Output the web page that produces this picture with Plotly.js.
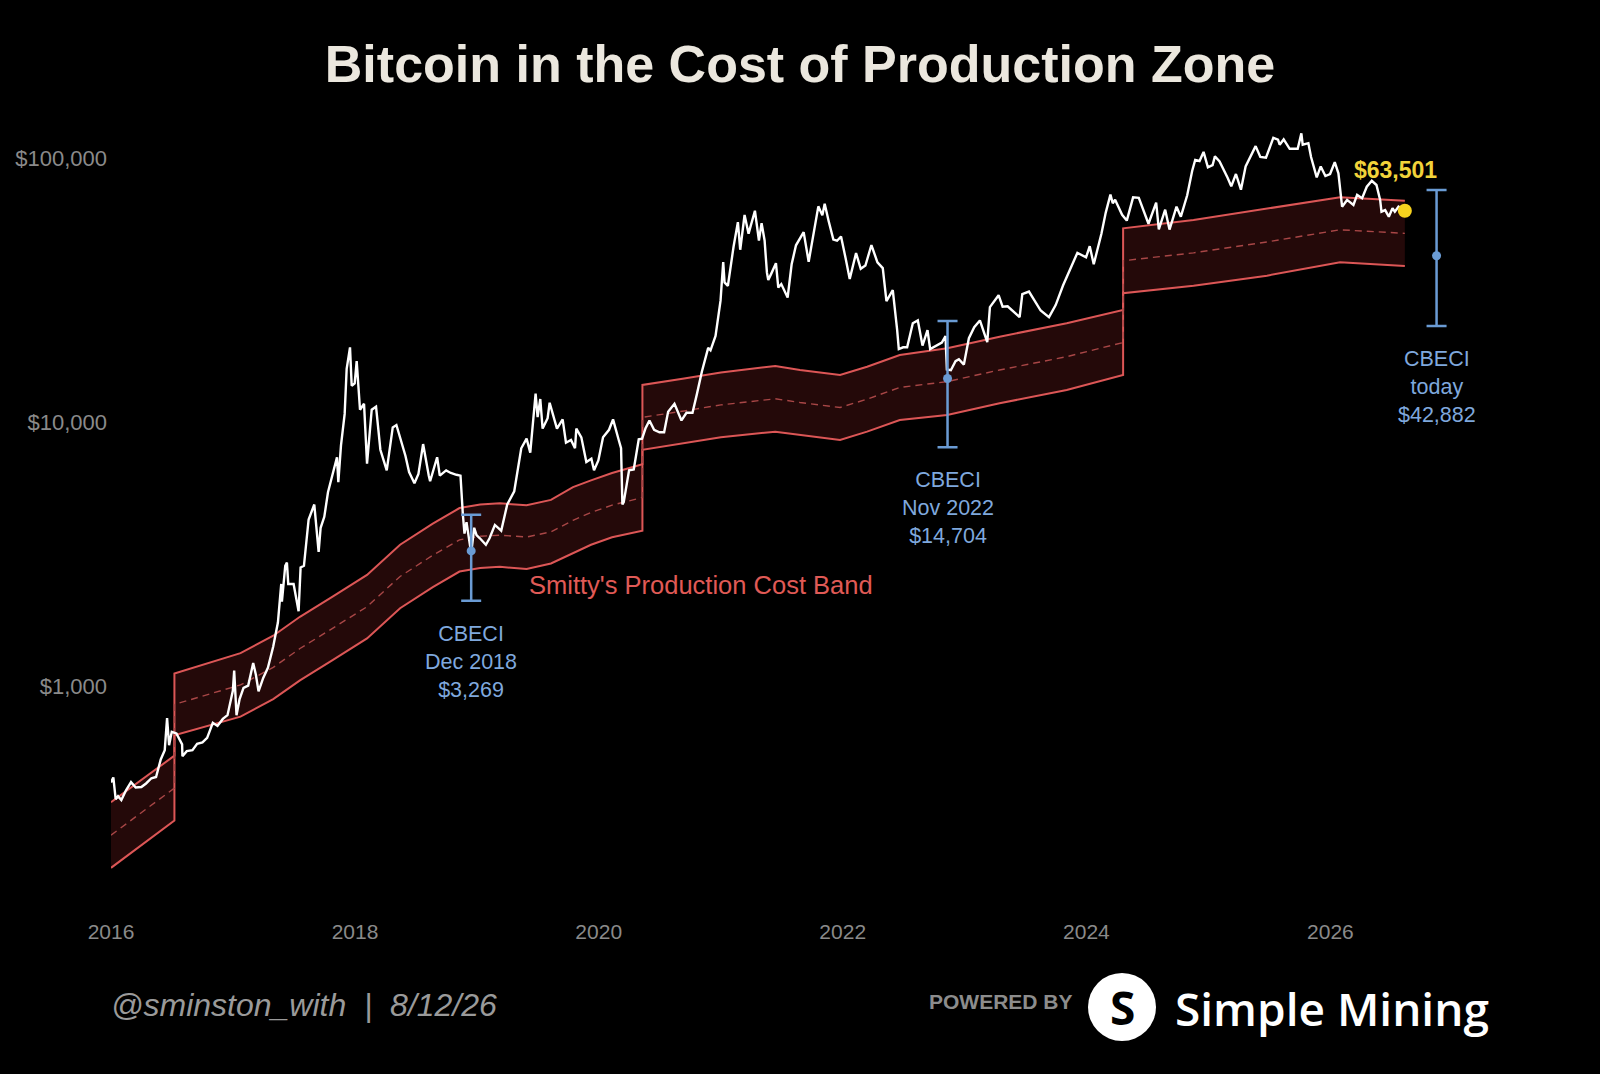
<!DOCTYPE html>
<html><head><meta charset="utf-8">
<script src="https://cdn.plot.ly/plotly-3.0.1.min.js"></script>
<style>html,body{margin:0;padding:0;background:#000;}#chart{width:1600px;height:1074px;}</style>
</head><body><div id="chart"></div>
<script>
// ---- Bitcoin price ----
const priceDates = [
'2016-01-01','2016-01-08','2016-01-15','2016-01-22','2016-02-01','2016-02-15','2016-03-01','2016-03-15','2016-04-01','2016-04-15','2016-05-01','2016-05-15','2016-05-29','2016-06-10','2016-06-17','2016-06-23','2016-07-01','2016-07-15','2016-08-01','2016-08-02','2016-08-15','2016-09-01','2016-09-15','2016-10-01','2016-10-15','2016-11-01','2016-11-15','2016-12-01','2016-12-15','2016-12-31',
'2017-01-04','2017-01-11','2017-01-20','2017-02-01','2017-02-15','2017-03-02','2017-03-10','2017-03-18','2017-04-01','2017-04-15','2017-05-01','2017-05-15','2017-05-25','2017-05-27','2017-06-06','2017-06-11','2017-06-15','2017-07-01','2017-07-16','2017-07-22','2017-08-01','2017-08-15','2017-09-01','2017-09-14','2017-09-20','2017-10-01','2017-10-12','2017-10-20','2017-11-01','2017-11-08','2017-11-12','2017-11-20','2017-12-01','2017-12-07','2017-12-17','2017-12-22','2017-12-31',
'2018-01-06','2018-01-16','2018-01-28','2018-02-06','2018-02-20','2018-03-05','2018-03-18','2018-04-06','2018-04-24','2018-05-05','2018-05-20','2018-06-01','2018-06-12','2018-06-28','2018-07-10','2018-07-24','2018-08-10','2018-08-14','2018-09-04','2018-09-12','2018-10-01','2018-10-15','2018-11-01','2018-11-13','2018-11-20','2018-11-25','2018-12-01','2018-12-15','2018-12-24','2018-12-31',
'2019-01-10','2019-01-28','2019-02-08','2019-02-24','2019-03-15','2019-04-02','2019-04-23','2019-05-14','2019-05-30','2019-06-10','2019-06-26','2019-07-02','2019-07-10','2019-07-17','2019-08-01','2019-08-07','2019-08-29','2019-09-15','2019-09-25','2019-10-10','2019-10-22','2019-10-26','2019-11-10','2019-11-25','2019-12-10','2019-12-18','2019-12-31',
'2020-01-14','2020-02-01','2020-02-13','2020-03-01','2020-03-08','2020-03-12','2020-03-16','2020-04-01','2020-04-15','2020-04-30','2020-05-10','2020-05-20','2020-06-01','2020-06-15','2020-07-01','2020-07-15','2020-07-27','2020-08-15','2020-09-05','2020-09-20','2020-10-08','2020-10-21','2020-11-05','2020-11-24','2020-12-01','2020-12-16','2020-12-27','2020-12-31',
'2021-01-08','2021-01-12','2021-01-22','2021-02-08','2021-02-21','2021-02-28','2021-03-13','2021-03-25','2021-04-13','2021-04-25','2021-05-03','2021-05-12','2021-05-19','2021-05-23','2021-06-01','2021-06-15','2021-06-22','2021-07-01','2021-07-20','2021-08-01','2021-08-14','2021-09-06','2021-09-21','2021-10-01','2021-10-20','2021-11-01','2021-11-08','2021-11-20','2021-12-04','2021-12-15','2021-12-27',
'2022-01-10','2022-01-22','2022-02-10','2022-02-24','2022-03-10','2022-03-28','2022-04-15','2022-05-01','2022-05-12','2022-05-31','2022-06-13','2022-06-18','2022-07-01','2022-07-13','2022-07-30','2022-08-14','2022-08-28','2022-09-12','2022-09-20','2022-10-01','2022-10-25','2022-11-05','2022-11-09','2022-11-21','2022-12-05','2022-12-15','2022-12-30',
'2023-01-14','2023-01-30','2023-02-16','2023-03-10','2023-03-18','2023-04-13','2023-04-25','2023-05-10','2023-06-15','2023-06-23','2023-07-13','2023-08-17','2023-09-11','2023-10-01','2023-10-23','2023-11-10','2023-12-05','2023-12-31',
'2024-01-11','2024-01-23','2024-02-15','2024-02-28','2024-03-13','2024-03-20','2024-03-27','2024-04-17','2024-05-01','2024-05-20','2024-06-06','2024-07-05','2024-07-28','2024-08-05','2024-08-24','2024-09-06','2024-09-27','2024-10-10','2024-10-29','2024-11-13','2024-11-22','2024-12-05','2024-12-17','2024-12-30',
'2025-01-13','2025-01-20','2025-02-03','2025-02-27','2025-03-10','2025-03-24','2025-04-08','2025-04-22','2025-05-08','2025-05-22','2025-06-05','2025-06-22','2025-07-14','2025-07-28','2025-08-02','2025-08-14','2025-09-01','2025-09-25','2025-10-06','2025-10-10','2025-10-27','2025-11-04','2025-11-21','2025-12-03','2025-12-17','2025-12-31',
'2026-01-14','2026-01-25','2026-02-05','2026-02-20','2026-03-11','2026-03-22','2026-04-06','2026-04-20','2026-05-05','2026-05-19','2026-05-30','2026-06-03','2026-06-14','2026-06-25','2026-07-06','2026-07-13','2026-07-24','2026-08-04','2026-08-12'
];
const priceValues = [
434,453,375,385,372,405,435,415,417,430,450,455,530,575,760,600,675,665,605,545,570,575,608,615,640,730,710,755,780,965,
1150,780,895,990,1010,1230,1110,960,1080,1180,1420,1750,2450,2100,2870,2950,2450,2450,1930,2830,2870,4300,4900,3240,4000,4400,5450,6000,6750,7400,5950,8200,10800,16000,19300,13800,14100,
17100,11200,11800,7000,11200,11500,7900,6600,9600,9800,8500,7500,6500,5900,6400,8300,6300,6000,7400,6300,6600,6450,6350,6300,4500,3800,4200,3200,4000,3750,
3650,3450,3650,4100,3900,4900,5500,8000,8700,7700,12900,10500,12300,9500,10400,11900,9500,10300,8400,8600,8000,9500,8800,7100,7300,6600,7200,
8800,9400,10300,8600,8000,4900,5000,6600,6650,8650,8700,9500,10200,9400,9200,9200,11000,11800,10200,10900,10900,12800,15600,19200,18800,21300,26500,29000,
40600,34000,33000,46400,57500,45200,61200,52000,63500,49000,57000,49000,37000,34700,36700,40200,32500,33500,29800,39800,47000,52700,40700,48200,66000,61000,67500,58000,49400,48900,50700,
41800,35000,43900,38300,39400,47100,40500,38500,28900,31800,22500,19000,19300,19300,23800,24400,19600,22400,19000,19300,20100,21300,15900,15800,17100,17400,16600,
20900,23000,24400,20200,27400,30400,27500,27600,25100,30700,31400,26600,25100,27900,33100,37300,44000,42300,
46600,39800,52000,62500,73100,67800,69900,61300,58300,71400,71100,56700,68200,54000,64100,53900,65800,60300,72700,90000,98900,98000,106100,92700,
94500,102000,97700,84700,78600,87500,76300,93500,103000,111600,101500,100900,119900,118000,113000,118300,109000,109000,124700,113000,114500,101500,85000,93500,86000,87500,
97000,88000,65800,69800,66800,72900,70800,78300,82500,79500,69800,63000,63900,60300,64900,63000,65800,64300,63501
];

// ---- Smitty's Production Cost Band (upper / mid / lower) ----
const bandDates = [
'2016-01-01','2016-07-09',
'2016-07-09','2017-01-23','2017-05-01','2017-07-20','2017-10-27','2018-02-06','2018-05-16','2018-08-22','2018-11-10','2019-01-11','2019-03-11','2019-05-30','2019-08-11','2019-10-16','2019-12-09','2020-02-10','2020-05-11',
'2020-05-11','2020-09-13','2021-01-01','2021-06-13','2021-08-26','2021-12-24','2022-03-15','2022-06-21','2022-11-10','2023-04-16','2023-11-03','2024-04-20',
'2024-04-20','2024-11-17','2025-06-25','2026-01-30','2026-08-12'
];
const bandUpper = [
365,548,
1122,1340,1560,1840,2200,2650,3450,4150,4750,4900,4950,4870,5100,5700,6050,6450,6960,
13900,14700,15500,16400,15840,15160,16300,18050,19130,21180,23800,26730,
54500,58600,64900,71440,69350
];
const bandLower = [
206,311,
655,770,897,1057,1264,1523,1983,2385,2730,2816,2845,2790,2930,3200,3450,3680,3900,
7900,8350,8800,9250,8980,8600,9250,10240,10700,11850,13300,15160,
30930,33040,36060,40520,39230
];
const bandMid = [
274,413,
857,1016,1183,1395,1668,2009,2616,3146,3601,3715,3750,3690,3860,4270,4570,4870,5210,
10480,11080,11680,12320,11930,11420,12280,13600,14310,15840,17790,20130,
41060,44000,48380,53800,52160
];

// ---- CBECI markers ----
const cbeciDates  = ['2018-12-15','2022-11-11','2026-11-15'];
const cbeciValues = [3269, 14704, 42882];
const cbeciHigh   = [4480, 24300, 76100];
const cbeciLow    = [2115, 8070, 23250];
const cbeciLabels = ['Dec 2018','Nov 2022','today'];

const lastDate = '2026-08-12';
const lastPrice = 63501;

const xTickVals = ['2016-01-01','2018-01-01','2020-01-01','2022-01-01','2024-01-01','2026-01-01'];
const xTickText = ['2016','2018','2020','2022','2024','2026'];
const yTickVals = [1000, 10000, 100000];
const yTickText = ['$1,000','$10,000','$100,000'];

const RED = '#dc5656';
const BLUE = '#6a9bd4';
const LABELBLUE = '#7fa8dd';
const FONT = 'Liberation Sans, Arial, sans-serif';

const traces = [
  {x: bandDates, y: bandLower, mode:'lines', line:{color:RED, width:2}, hoverinfo:'skip', showlegend:false},
  {x: bandDates, y: bandUpper, mode:'lines', fill:'tonexty', fillcolor:'rgb(36,9,9)', line:{color:RED, width:2}, hoverinfo:'skip', showlegend:false},
  {x: bandDates, y: bandMid, mode:'lines', line:{color:'#a84646', width:1.4, dash:'7px,5px'}, hoverinfo:'skip', showlegend:false},
  {x: priceDates, y: priceValues, mode:'lines', line:{color:'#ffffff', width:2.4}, hoverinfo:'skip', showlegend:false},
  {x: cbeciDates, y: cbeciValues, mode:'markers', marker:{color:BLUE, size:9},
   error_y:{type:'data', symmetric:false,
     array: cbeciValues.map((v,i)=>cbeciHigh[i]-v),
     arrayminus: cbeciValues.map((v,i)=>v-cbeciLow[i]),
     color:BLUE, thickness:2.5, width:10},
   hoverinfo:'skip', showlegend:false},
  {x:[lastDate], y:[lastPrice], mode:'markers', marker:{color:'#f7d21e', size:14}, hoverinfo:'skip', showlegend:false}
];

const L = 111, R = 87, T = 120, B = 162, W = 1600, H = 1074;
const PW = W - L - R, PH = H - T - B;
const px = x => (x - L) / PW;           // pixel -> paper x
const py = y => (H - B - y) / PH;       // pixel -> paper y

const annotations = [];
cbeciDates.forEach((d,i)=>{
  annotations.push({x:d, y:Math.log10(cbeciLow[i]), xref:'x', yref:'y', showarrow:false,
    xanchor:'center', yanchor:'top', yshift:-19,
    text:'CBECI<br>'+cbeciLabels[i]+'<br>$'+cbeciValues[i].toLocaleString('en-US'),
    font:{family:FONT, size:21.5, color:LABELBLUE}});
});
annotations.push({x:lastDate, y:Math.log10(lastPrice), xref:'x', yref:'y', showarrow:false,
  xanchor:'center', yanchor:'middle', xshift:-9, yshift:41,
  text:'$'+lastPrice.toLocaleString('en-US'),
  font:{family:FONT, size:23, color:'#f2d33a', weight:'bold'}});
annotations.push({x:'2019-06-01', y:Math.log10(2434), xref:'x', yref:'y', showarrow:false,
  xanchor:'left', yanchor:'middle', text:"Smitty's Production Cost Band",
  font:{family:FONT, size:25.5, color:'#e05a56'}});
// footer
annotations.push({x:px(109), y:py(1005), xref:'paper', yref:'paper', showarrow:false, xanchor:'left', yanchor:'middle',
  text:'<i>@sminston_with\u00A0\u00A0|\u00A0\u00A08/12/26</i>', font:{family:FONT, size:32, color:'#9a9a9a'}});
annotations.push({x:px(1001), y:py(1001), xref:'paper', yref:'paper', showarrow:false, xanchor:'center', yanchor:'middle',
  text:'POWERED BY', font:{family:FONT, size:21, color:'#8c8c8c', weight:'bold'}});
annotations.push({x:px(1122), y:py(1007), xref:'paper', yref:'paper', showarrow:false, xanchor:'center', yanchor:'middle',
  text:'S', font:{family:'Open Sans, sans-serif', size:46, color:'#000000', weight:'bold'}});
annotations.push({x:px(1173), y:py(1008), xref:'paper', yref:'paper', showarrow:false, xanchor:'left', yanchor:'middle',
  text:'Simple Mining', font:{family:'Open Sans, sans-serif', size:46, color:'#ffffff', weight:600}});

const layout = {
  width:W, height:H,
  paper_bgcolor:'#000000', plot_bgcolor:'#000000',
  margin:{l:L, r:R, t:T, b:B, pad:0},
  title:{text:'Bitcoin in the Cost of Production Zone', x:0.5, xanchor:'center', y:1-64/H, yanchor:'middle',
    font:{family:FONT, size:52, color:'#ebe7de', weight:'bold'}},
  xaxis:{type:'date', range:['2016-01-01','2027-07-02'], tickvals:xTickVals, ticktext:xTickText,
    showgrid:false, zeroline:false, showline:false, ticks:'', ticklabelstandoff:5,
    tickfont:{family:FONT, size:21, color:'#8a8a8a'}},
  yaxis:{type:'log', range:[2.1466, 5.1466], tickvals:yTickVals, ticktext:yTickText,
    showgrid:false, zeroline:false, showline:false, ticks:'', ticklabelstandoff:3,
    tickfont:{family:FONT, size:22, color:'#8a8a8a'}},
  shapes:[{type:'circle', xref:'paper', yref:'paper', xsizemode:'pixel', ysizemode:'pixel',
    xanchor:px(1122), yanchor:py(1007), x0:-34, x1:34, y0:-34, y1:34,
    fillcolor:'#ffffff', line:{width:0}, layer:'above'}],
  annotations: annotations,
  showlegend:false
};

Plotly.newPlot('chart', traces, layout, {displayModeBar:false, staticPlot:true});
</script>
</body></html>
